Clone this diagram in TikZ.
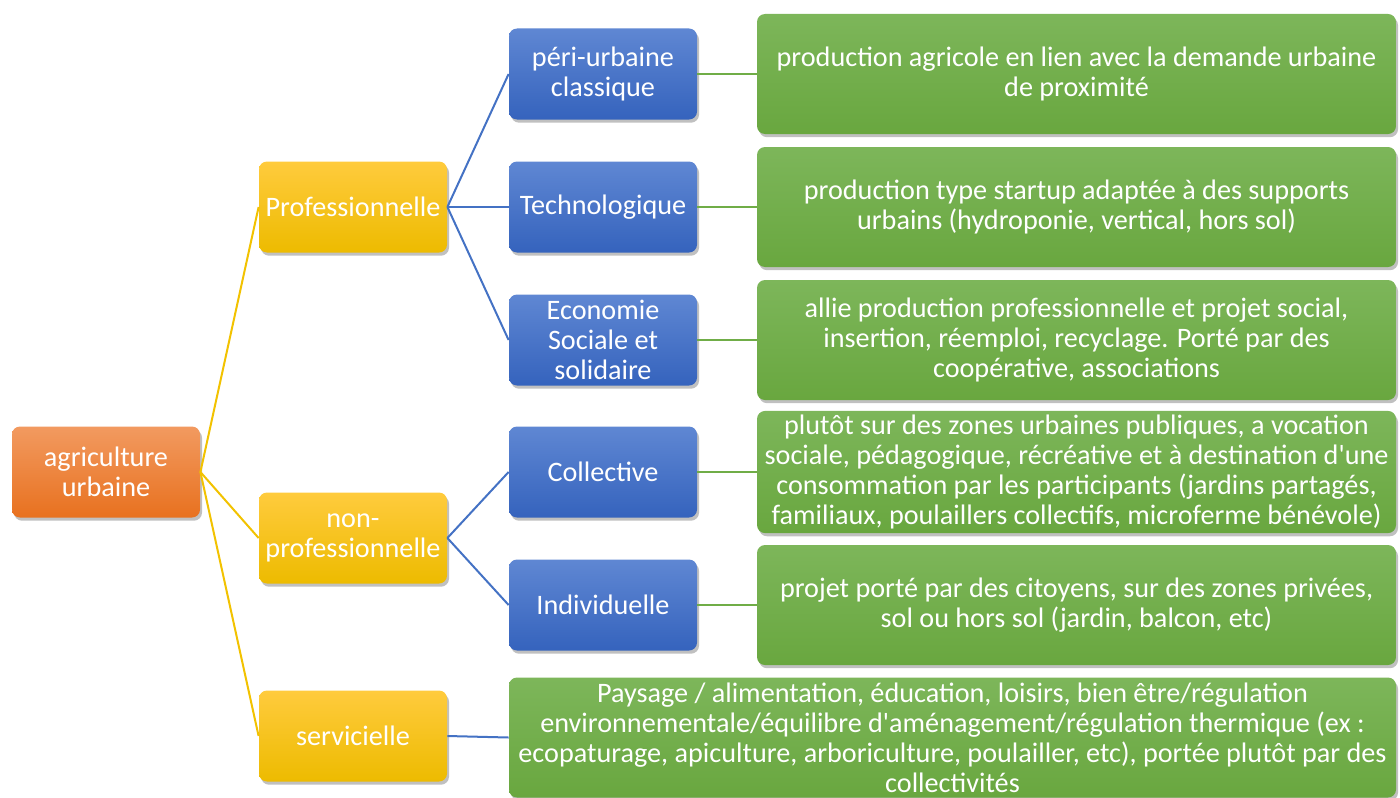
\documentclass[tikz,border=0pt]{standalone}
\usepackage{fontspec}
\setmainfont{Carlito}
\usetikzlibrary{positioning, shadows}

\definecolor{orangetop}{HTML}{F29A60}
\definecolor{orangebot}{HTML}{E8711F}
\definecolor{yellowtop}{HTML}{FFCB3D}
\definecolor{yellowbot}{HTML}{EDBB00}
\definecolor{bluetop}{HTML}{5F87D3}
\definecolor{bluebot}{HTML}{3563BD}
\definecolor{greentop}{HTML}{7DB65A}
\definecolor{greenbot}{HTML}{69A73F}
\definecolor{yellowline}{HTML}{F2C200}
\definecolor{blueline}{HTML}{4472C4}
\definecolor{greenline}{HTML}{70AD47}

\tikzset{
  box/.style={rectangle, rounded corners=4pt, minimum width=94pt,
    minimum height=45.5pt, inner sep=2pt, align=center, text=white,
    font=\fontsize{14.1}{15}\selectfont,
    drop shadow={shadow xshift=1pt, shadow yshift=-1.6pt, fill=black!45, opacity=0.55}},
  rootbox/.style={box, top color=orangetop, bottom color=orangebot},
  catbox/.style={box, top color=yellowtop, bottom color=yellowbot},
  typebox/.style={box, top color=bluetop, bottom color=bluebot},
  descbox/.style={box, top color=greentop, bottom color=greenbot,
    minimum width=319.5pt, minimum height=60pt},
  link/.style={line width=1pt}
}

\begin{document}
\begin{tikzpicture}[x=0.5pt,y=-0.5pt,on grid]
  \useasboundingbox (0,0) rectangle (1400,797);

  \node[rootbox] (agri) at (106,472) {agriculture\\urbaine};

  \node[catbox] (pro) at (353,207) {Professionnelle};
  \node[catbox] (nonpro) at (353,538) {non-\\professionnelle};
  \node[catbox] (serv) at (353,736) {servicielle};

  \node[typebox] (peri) at (603,74) {péri-urbaine\\classique};
  \node[typebox] (techno) [right=125pt of pro] {Technologique};
  \node[typebox] (ess) at (603,340) {Economie\\Sociale et\\solidaire};
  \node[typebox] (coll) at (603,472) {Collective};
  \node[typebox] (indiv) at (603,605) {Individuelle};

  \node[descbox] (dperi) [right=236.75pt of peri]
    {production agricole en lien avec la demande urbaine\\de proximité};
  \node[descbox] (dtechno) [right=236.75pt of techno]
    {production type startup adaptée à des supports\\urbains (hydroponie, vertical, hors sol)};
  \node[descbox] (dess) [right=236.75pt of ess]
    {allie production professionnelle et projet social,\\insertion, réemploi, recyclage. Porté par des\\coopérative, associations};
  \node[descbox] (dcoll) [right=236.75pt of coll]
    {plutôt sur des zones urbaines publiques, a vocation\\sociale, pédagogique, récréative et à destination d\textquotesingle une\\consommation par les participants (jardins partagés,\\familiaux, poulaillers collectifs, microferme bénévole)};
  \node[descbox] (dindiv) [right=236.75pt of indiv]
    {projet porté par des citoyens, sur des zones privées,\\sol ou hors sol (jardin, balcon, etc)};
  \node[descbox, minimum width=443.5pt] (dserv) at (952.5,737.5)
    {Paysage / alimentation, éducation, loisirs, bien être/régulation\\environnementale/équilibre d\textquotesingle aménagement/régulation thermique (ex :\\ecopaturage, apiculture, arboriculture, poulailler, etc), portée plutôt par des\\collectivités};

  \path[link, draw=yellowline]
    (agri.east) edge (pro.west)
                edge (nonpro.west)
                edge (serv.west);
  \path[link, draw=blueline]
    (pro.east) edge (peri.west)
               edge (techno.west)
               edge (ess.west)
    (nonpro.east) edge (coll.west)
                  edge (indiv.west)
    (serv.east) edge (dserv.west);
  \path[link, draw=greenline]
    (peri) edge (dperi)
    (techno) edge (dtechno)
    (ess) edge (dess)
    (coll) edge (dcoll)
    (indiv) edge (dindiv);
\end{tikzpicture}
\end{document}
